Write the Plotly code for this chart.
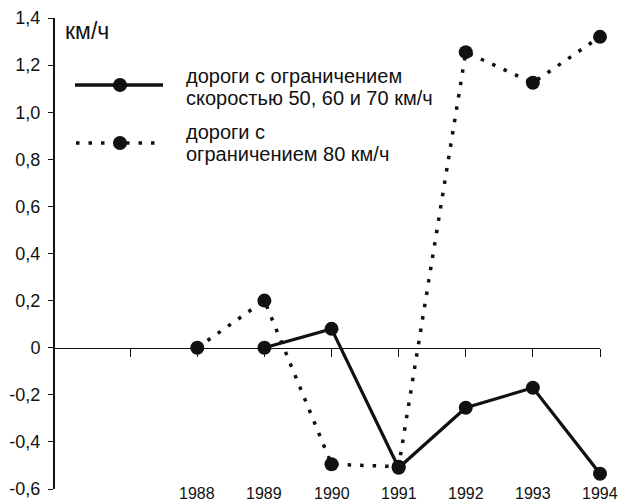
import plotly.graph_objects as go

# ---- data ----
years_solid = [1989, 1990, 1991, 1992, 1993, 1994]
speed_change_50_70 = [0.0, 0.08, -0.51, -0.255, -0.17, -0.535]

years_dotted = [1988, 1989, 1990, 1991, 1992, 1993, 1994]
speed_change_80 = [0.0, 0.2, -0.495, -0.505, 1.255, 1.125, 1.32]

y_tick_vals = [-0.6, -0.4, -0.2, 0, 0.2, 0.4, 0.6, 0.8, 1.0, 1.2, 1.4]
y_tick_text = ["-0,6", "-0,4", "-0,2", "0", "0,2", "0,4", "0,6", "0,8", "1,0", "1,2", "1,4"]
x_tick_vals = [1987, 1988, 1989, 1990, 1991, 1992, 1993, 1994]
year_labels = ["1988", "1989", "1990", "1991", "1992", "1993", "1994"]

legend_lines = [["дороги с ограничением", "скоростью 50, 60 и 70 км/ч"],
                ["дороги с", "ограничением 80 км/ч"]]
unit_label = "км/ч"

FONT = "Liberation Sans, Arial, sans-serif"
W, H = 620, 502
# plot area in page pixels: x 55..600, y 18..489
L, T = 55, 18
R = W - 600
B = H - 489
PW, PH = W - L - R, H - T - B


def px(xp):  # page x pixel -> paper fraction
    return (xp - L) / PW


def py(yp):  # page y pixel -> paper fraction
    return (H - B - yp) / PH


fig = go.Figure()

fig.add_trace(go.Scatter(
    x=years_dotted, y=speed_change_80, mode="lines+markers",
    line=dict(color="#111", width=3.5, dash="3.5px,9px"),
    marker=dict(size=14, color="#111"), cliponaxis=False, showlegend=False,
    hoverinfo="skip"))

fig.add_trace(go.Scatter(
    x=years_solid, y=speed_change_50_70, mode="lines+markers",
    line=dict(color="#111", width=3.2),
    marker=dict(size=14, color="#111"), cliponaxis=False, showlegend=False,
    hoverinfo="skip"))

shapes = []
annotations = []

# legend samples (drawn manually)
shapes.append(dict(type="line", xref="paper", yref="paper",
                   x0=px(75), x1=px(163), y0=py(85), y1=py(85),
                   line=dict(color="#111", width=3.5)))
shapes.append(dict(type="line", xref="paper", yref="paper",
                   x0=px(76), x1=px(163), y0=py(143), y1=py(143),
                   line=dict(color="#111", width=3.5, dash="3.5px,9px")))
for yy in (85, 143):
    shapes.append(dict(type="circle", xref="paper", yref="paper",
                       xsizemode="pixel", ysizemode="pixel",
                       xanchor=px(120), yanchor=py(yy),
                       x0=-7, x1=7, y0=-7, y1=7,
                       fillcolor="#111", line=dict(width=0)))

legend_text_rows = [(76, legend_lines[0][0]), (98, legend_lines[0][1]),
                    (132, legend_lines[1][0]), (154, legend_lines[1][1])]
for yy, txt in legend_text_rows:
    annotations.append(dict(xref="paper", yref="paper", x=px(184), y=py(yy),
                            xanchor="left", yanchor="middle", text=txt,
                            showarrow=False, font=dict(family=FONT, size=20, color="#111")))

annotations.append(dict(xref="paper", yref="paper", x=px(63), y=py(31),
                        xanchor="left", yanchor="middle", text=unit_label,
                        showarrow=False, font=dict(family=FONT, size=23, color="#111")))

for yr in year_labels:
    annotations.append(dict(xref="x", yref="paper", x=int(yr), y=0,
                            xanchor="center", yanchor="top", yshift=6, text=yr,
                            showarrow=False, font=dict(family=FONT, size=16, color="#111")))

fig.update_layout(
    width=W, height=H,
    margin=dict(l=L, r=R, t=T, b=B, pad=0, autoexpand=False),
    paper_bgcolor="white", plot_bgcolor="white",
    showlegend=False, hovermode=False,
    shapes=shapes, annotations=annotations,
    xaxis=dict(range=[1985.88, 1994], anchor="free", position=0.3,
               showline=True, linecolor="#111", linewidth=1.5,
               ticks="outside", ticklen=8, tickwidth=1, tickcolor="#111",
               tickvals=x_tick_vals, showticklabels=False,
               showgrid=False, zeroline=False),
    yaxis=dict(range=[-0.6, 1.4], showline=True, linecolor="#111", linewidth=2,
               ticks="outside", ticklen=5, tickwidth=1, tickcolor="#111",
               tickvals=y_tick_vals, ticktext=y_tick_text,
               tickfont=dict(family=FONT, size=18, color="#111"),
               ticklabelstandoff=4,
               showgrid=False, zeroline=False),
)

fig.write_html(
    "out.html",
    config={"displayModeBar": False, "staticPlot": True},
    post_script="document.body.style.margin='0';document.body.style.overflow='hidden';",
)
